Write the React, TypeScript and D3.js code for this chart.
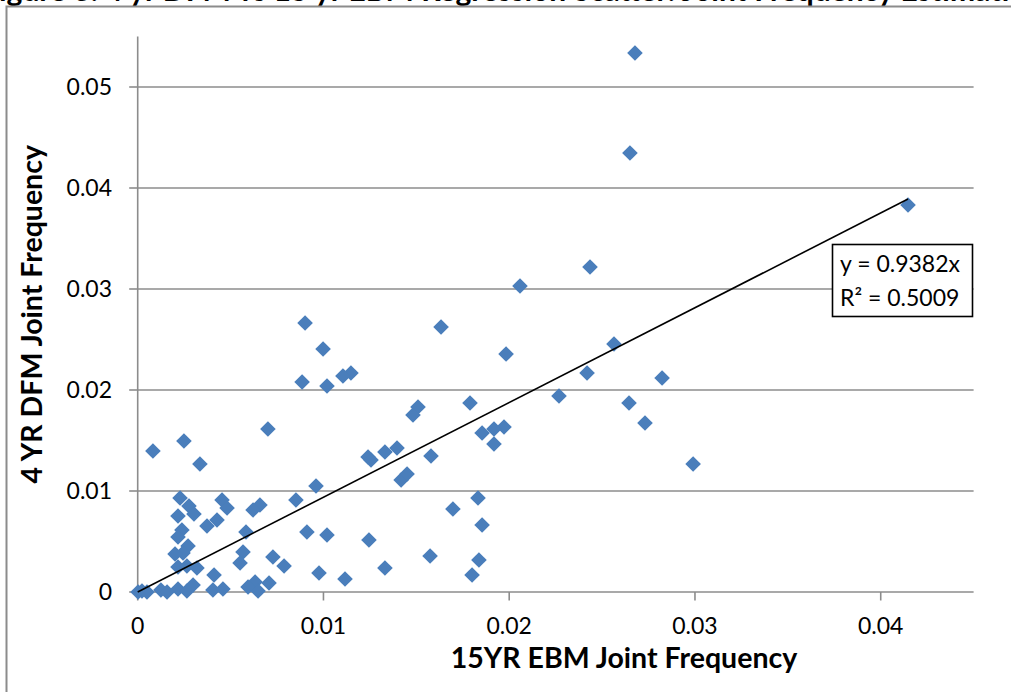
import React from 'react';
import * as d3 from 'd3';

const xValues = [
  0.02677, 0.0265, 0.04147, 0.02435, 0.02058, 0.00901, 0.01633, 0.02564, 0.00998, 0.01983,
  0.02419, 0.02823, 0.01148, 0.01105, 0.00885, 0.01019, 0.02268, 0.01789, 0.02645, 0.01509,
  0.01482, 0.02731, 0.01972, 0.01918, 0.00701, 0.01854, 0.00249, 0.01918, 0.01331, 0.01396,
  0.00082, 0.01579, 0.0124, 0.01256, 0.0299, 0.00335, 0.01418, 0.0145, 0.0096, 0.01832,
  0.00228, 0.00852, 0.00454, 0.00276, 0.00658, 0.00481, 0.00621, 0.01697, 0.00303, 0.00217,
  0.00427, 0.00373, 0.01854, 0.00238, 0.00583, 0.00911, 0.01019, 0.00217, 0.01245, 0.00271,
  0.00244, 0.00201, 0.00567, 0.01574, 0.00728, 0.00551, 0.01837, 0.00217, 0.00265, 0.00319,
  0.00788, 0.01331, 0.00976, 0.00411, 0.018, 0.01116, 0.00632, 0.00707, 0.00298, 0.00594,
  0.00217, 0.00125, 0.00158, 0.00265, 0.00405, 0.00459, 0.00648, 0.00002, 0.00023, 0.0005,
];

const yValues = [
  0.05337, 0.04347, 0.03832, 0.03218, 0.0303, 0.02663, 0.02624, 0.02455, 0.02406, 0.02356,
  0.02168, 0.02119, 0.02168, 0.02139, 0.02079, 0.0204, 0.01941, 0.01871, 0.01871, 0.01832,
  0.01752, 0.01673, 0.01634, 0.01614, 0.01614, 0.01574, 0.01495, 0.01465, 0.01386, 0.01426,
  0.01396, 0.01347, 0.01337, 0.01307, 0.01267, 0.01267, 0.01109, 0.01168, 0.0105, 0.00931,
  0.00931, 0.00911, 0.00911, 0.00851, 0.00861, 0.00832, 0.00812, 0.00822, 0.00772, 0.00752,
  0.00713, 0.00653, 0.00663, 0.00614, 0.00594, 0.00594, 0.00564, 0.00545, 0.00515, 0.00455,
  0.00386, 0.00376, 0.00396, 0.00356, 0.00347, 0.00287, 0.00317, 0.00248, 0.00257, 0.00238,
  0.00257, 0.00238, 0.00188, 0.00168, 0.00168, 0.00129, 0.00099, 0.00089, 0.00069, 0.0005,
  0.0003, 0.0002, 0.0, 0.0001, 0.0002, 0.0003, 0.0001, 0.0, 0.0001, 0.0,
];

const xTicks = [0, 0.01, 0.02, 0.03, 0.04];
const yTicks = [0, 0.01, 0.02, 0.03, 0.04, 0.05];
const xDomain = [0, 0.045];
const yDomain = [0, 0.055];
const slope = 0.9382;
const rSquared = 0.5009;
const xTitle = '15YR EBM Joint Frequency';
const yTitle = '4 YR DFM Joint Frequency';
const chartTitle = 'Figure 3. 4 yr DFM vs 15 yr EBM Regression Scatter: Joint Frequency Estimation';

const FONT = 'Lato, "Open Sans", sans-serif';
const GRID = '#8c8c8c';
const MARK = '#4a7ebb';

export default function App() {
  const W = 1011;
  const H = 692;
  const x = d3.scaleLinear().domain(xDomain).range([137.7, 973.6]);
  const y = d3.scaleLinear().domain(yDomain).range([592, 36.5]);
  const fmt = (d: number) => (d === 0 ? '0' : d3.format('.2f')(d));
  const diamond = d3.symbol().type(d3.symbolSquare).size(122)();
  const xMax = d3.max(xValues) as number;
  const trend = d3.line<number>().x((d) => x(d)).y((d) => y(slope * d))([0, xMax]) as string;
  const pts = xValues.map((v, i) => ({ x: v, y: yValues[i] }));

  return (
    <svg
      width={W}
      height={H}
      style={{ position: 'absolute', left: 0, top: 0, background: '#fff', display: 'block' }}
      fontFamily={FONT}
    >
      <rect x={0} y={0} width={W} height={H} fill="#fff" />
      <text x={-18} y={0.5} fontSize={30} fontWeight="bold" fill="#000">
        {chartTitle}
      </text>
      {/* outer chart border */}
      <path d={`M6.5,${H + 5} V6.5 H${W + 5}`} fill="none" stroke={GRID} strokeWidth={2} />

      {/* gridlines */}
      {yTicks.filter((t) => t > 0).map((t) => (
        <line key={'g' + t} x1={x.range()[0]} x2={x.range()[1]} y1={y(t)} y2={y(t)} stroke={GRID} strokeWidth={1.6} />
      ))}

      {/* y axis */}
      <line x1={x(0)} x2={x(0)} y1={y.range()[1]} y2={y(0)} stroke={GRID} strokeWidth={1.6} />
      {yTicks.map((t) => (
        <g key={'yt' + t}>
          <line x1={x(0) - 8.5} x2={x(0)} y1={y(t)} y2={y(t)} stroke={GRID} strokeWidth={1.6} />
          <text x={112} y={y(t)} dy="0.36em" textAnchor="end" fontSize={23} fill="#000">
            {fmt(t)}
          </text>
        </g>
      ))}

      {/* x axis */}
      <line x1={x.range()[0]} x2={x.range()[1]} y1={y(0)} y2={y(0)} stroke={GRID} strokeWidth={1.6} />
      {xTicks.map((t) => (
        <g key={'xt' + t}>
          <line x1={x(t)} x2={x(t)} y1={y(0)} y2={y(0) + 8.5} stroke={GRID} strokeWidth={1.6} />
          <text x={x(t)} y={634} textAnchor="middle" fontSize={23} fill="#000">
            {fmt(t)}
          </text>
        </g>
      ))}

      {/* points */}
      {pts.map((p, i) => (
        <path key={'p' + i} d={diamond} transform={`translate(${x(p.x)},${y(p.y)}) rotate(45)`} fill={MARK} />
      ))}

      {/* trendline */}
      <path d={trend} fill="none" stroke="#000" strokeWidth={1.6} />

      {/* equation box */}
      <rect x={832.5} y={244.5} width={140} height={72} fill="#fff" stroke="#000" strokeWidth={1.6} />
      <text x={840} y={272} fontSize={23} fill="#000">{`y = ${slope}x`}</text>
      <text x={840} y={305.5} fontSize={23} fill="#000">{`R² = ${rSquared}`}</text>

      {/* axis titles */}
      <text x={624} y={668} textAnchor="middle" fontSize={28.5} fontWeight="bold" fill="#000">
        {xTitle}
      </text>
      <text
        transform={`translate(42,${(y.range()[0] + y.range()[1]) / 2}) rotate(-90)`}
        textAnchor="middle"
        fontSize={28.5}
        fontWeight="bold"
        fill="#000"
      >
        {yTitle}
      </text>
    </svg>
  );
}
